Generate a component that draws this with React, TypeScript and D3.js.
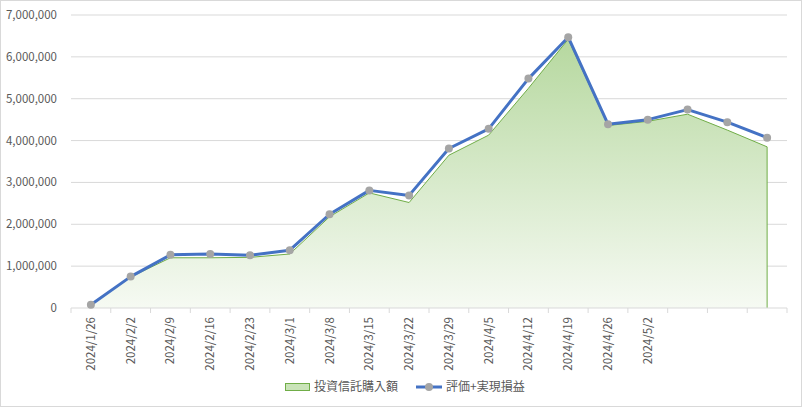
import React from "react";
import * as d3 from "d3";

const categories = [
  "2024/1/26", "2024/2/2", "2024/2/9", "2024/2/16", "2024/2/23", "2024/3/1",
  "2024/3/8", "2024/3/15", "2024/3/22", "2024/3/29", "2024/4/5", "2024/4/12",
  "2024/4/19", "2024/4/26", "2024/5/2", "", "", "",
];
const invested = [
  80000, 740000, 1200000, 1200000, 1210000, 1290000, 2180000, 2750000, 2520000,
  3650000, 4130000, 5250000, 6420000, 4360000, 4460000, 4630000, 4250000, 3850000,
];
const valuation = [
  80000, 750000, 1270000, 1290000, 1260000, 1380000, 2240000, 2810000, 2690000,
  3810000, 4280000, 5480000, 6470000, 4390000, 4500000, 4740000, 4440000, 4070000,
];
const yTicks = [0, 1000000, 2000000, 3000000, 4000000, 5000000, 6000000, 7000000];
const seriesNames = ["投資信託購入額", "評価+実現損益"];

const W = 803;
const H = 408;
const left = 71;
const right = 787;
const top = 15;
const bottom = 308;
const FONT = "'Noto Sans CJK JP', 'Noto Sans', sans-serif";
const TXT = "#595959";
const GRID = "#d9d9d9";

export default function App() {
  const idx = categories.map((_, i) => String(i));
  const x = d3.scaleBand<string>().domain(idx).range([left, right]).padding(0);
  const y = d3.scaleLinear().domain([0, 7000000]).range([bottom, top]);
  const cx = (i: number) => (x(String(i)) as number) + x.bandwidth() / 2;

  const area = d3
    .area<number>()
    .x((_, i) => cx(i))
    .y0(bottom)
    .y1((d) => y(d))(invested) as string;
  const topLine = d3
    .line<number>()
    .x((_, i) => cx(i))
    .y((d) => y(d))(invested) as string;
  const lastX = cx(invested.length - 1);
  const outline = topLine + `L${lastX},${bottom}`;
  const blueLine = d3
    .line<number>()
    .x((_, i) => cx(i))
    .y((d) => y(d))(valuation) as string;

  const fmt = d3.format(",");
  const boundaries = d3.range(categories.length + 1).map((i) => left + i * x.step());

  return (
    <svg
      width={W}
      height={H}
      style={{ position: "absolute", left: 0, top: 0, background: "#fff" }}
      fontFamily={FONT}
    >
      <defs>
        <linearGradient id="g" x1="0" y1="0" x2="0" y2="1">
          <stop offset="0" stopColor="#b6d89f" />
          <stop offset="1" stopColor="#f6faf3" />
        </linearGradient>
      </defs>
      <rect x={0.5} y={0.5} width={W - 2} height={H - 2} fill="#fff" stroke={GRID} />
      {yTicks.map((t) => (
        <g key={t}>
          {t > 0 && (
            <line x1={left} x2={right} y1={y(t)} y2={y(t)} stroke={GRID} strokeWidth={1} />
          )}
          <text
            x={57}
            y={y(t)}
            dy="0.35em"
            textAnchor="end"
            fontSize={11.5}
            fill={TXT}
          >
            {fmt(t)}
          </text>
        </g>
      ))}
      <path d={area} fill="url(#g)" />
      <path d={outline} fill="none" stroke="#70ad47" strokeWidth={1} />
      <line x1={left} x2={right} y1={bottom} y2={bottom} stroke={GRID} />
      {boundaries.map((bx, i) => (
        <line key={i} x1={bx} x2={bx} y1={bottom} y2={bottom + 5} stroke={GRID} />
      ))}
      {categories.map((c, i) =>
        c ? (
          <text
            key={i}
            transform={`translate(${cx(i)},${bottom + 9}) rotate(-90)`}
            textAnchor="end"
            dy="0.35em"
            fontSize={11.5}
            fill={TXT}
          >
            {c}
          </text>
        ) : null
      )}
      <path d={blueLine} fill="none" stroke="#4472c4" strokeWidth={3} strokeLinejoin="round" />
      {valuation.map((v, i) => (
        <circle key={i} cx={cx(i)} cy={y(v)} r={4} fill="#a5a5a5" />
      ))}
      <g>
        <rect x={285.5} y={383.5} width={24} height={7} fill="#c9e3b8" stroke="#70ad47" />
        <text x={314} y={387} dy="0.35em" fontSize={12} fill={TXT}>
          {seriesNames[0]}
        </text>
        <line x1={416} x2={442} y1={387} y2={387} stroke="#4472c4" strokeWidth={3} />
        <circle cx={429} cy={387} r={4} fill="#a5a5a5" />
        <text x={446} y={387} dy="0.35em" fontSize={12} fill={TXT}>
          {seriesNames[1]}
        </text>
      </g>
    </svg>
  );
}
